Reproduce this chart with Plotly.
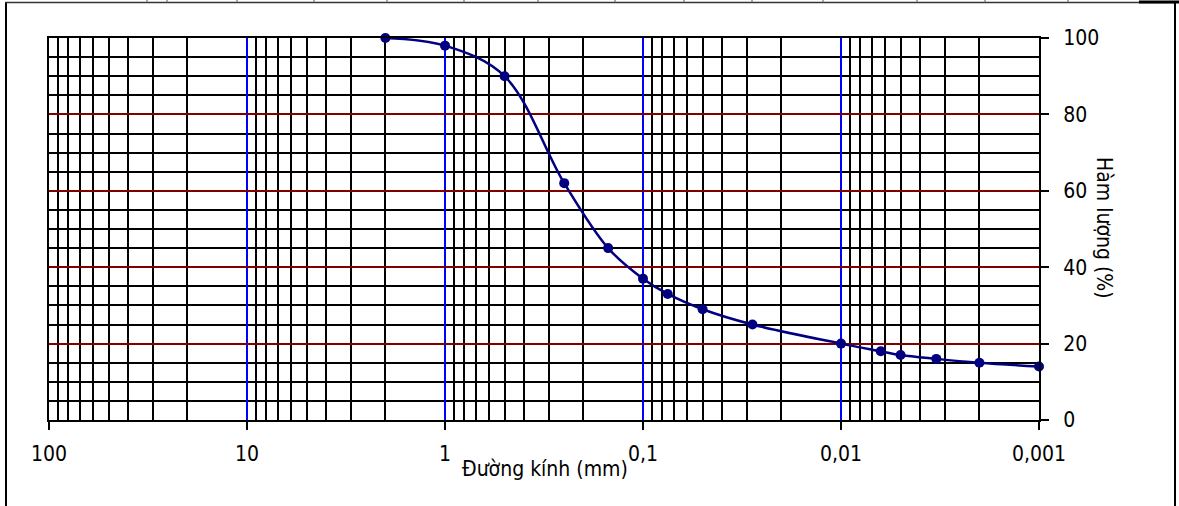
import math
import plotly.graph_objects as go

# ---- data ----
diameter_mm = [2.0, 1.0, 0.5, 0.25, 0.15, 0.1, 0.075, 0.05, 0.028, 0.01,
               0.0063, 0.005, 0.0033, 0.002, 0.001]
content_pct = [100, 98, 90, 62, 45, 37, 33, 29, 25, 20, 18, 17, 16, 15, 14]

x_decades = [100, 10, 1, 0.1, 0.01, 0.001]
x_labels = ["100", "10", "1", "0,1", "0,01", "0,001"]
y_ticks = [0, 20, 40, 60, 80, 100]
y_labels = ["0", "20", "40", "60", "80", "100"]

x_title = "Đường kính (mm)"
y_title = "Hàm lượng (%)"

# minor grid positions: 2..9 within each decade
x_minor = []
for d in x_decades[1:]:
    for m in range(2, 10):
        x_minor.append(round(m * d, 6))

FONT = "DejaVu Sans Condensed, Liberation Sans Narrow, Roboto Condensed, Liberation Sans, Arial, sans-serif"
FS = 21
GW = 2

W, H = 1179, 506
L, R, T, B = 49, 140, 38, 86
PW, PH = W - L - R, H - T - B


def px_to_paper_x(px):
    return (px - L) / PW


def py_to_paper_y(py):
    return (H - B - py) / PH


fig = go.Figure()
fig.add_trace(go.Scatter(
    x=diameter_mm, y=content_pct,
    mode="lines+markers",
    line=dict(color="#000080", width=2.5, shape="spline", smoothing=1.0),
    marker=dict(color="#000080", size=10),
    showlegend=False,
    cliponaxis=False,
))

fig.update_xaxes(
    type="log",
    range=[math.log10(100), math.log10(0.001)],
    autorange=False,
    tickmode="array", tickvals=x_decades, ticktext=x_labels,
    ticks="outside", ticklen=8, tickwidth=2, tickcolor="black",
    ticklabelstandoff=6,
    showgrid=True, gridcolor="#0000FF", gridwidth=GW,
    minor=dict(tickmode="array", tickvals=x_minor, showgrid=True,
               gridcolor="black", gridwidth=GW, ticks=""),
    showline=True, linecolor="black", linewidth=2, mirror=True,
    zeroline=False,
    tickfont=dict(family=FONT, size=FS, color="black"),
)
fig.update_yaxes(
    range=[0, 100], autorange=False,
    side="right",
    tickmode="array", tickvals=y_ticks, ticktext=y_labels,
    ticks="outside", ticklen=8, tickwidth=2, tickcolor="black",
    ticklabelstandoff=10,
    showgrid=True, gridcolor="#800000", gridwidth=GW,
    minor=dict(dtick=5, showgrid=True, gridcolor="black", gridwidth=GW, ticks=""),
    showline=True, linecolor="black", linewidth=2, mirror=True,
    zeroline=False,
    tickfont=dict(family=FONT, size=FS, color="black"),
)

annotations = [
    dict(text=x_title, x=px_to_paper_x(545), y=py_to_paper_y(469),
         xref="paper", yref="paper", showarrow=False,
         font=dict(family=FONT, size=FS, color="black"),
         xanchor="center", yanchor="middle"),
    dict(text=y_title, x=px_to_paper_x(1104), y=py_to_paper_y(228),
         xref="paper", yref="paper", showarrow=False, textangle=90,
         font=dict(family=FONT, size=FS, color="black"),
         xanchor="center", yanchor="middle"),
]

# outer frame (table cell borders around the chart)
shapes = [
    dict(type="line", xref="paper", yref="paper",
         x0=px_to_paper_x(6), x1=px_to_paper_x(6),
         y0=py_to_paper_y(2), y1=py_to_paper_y(506),
         line=dict(color="black", width=2)),
    dict(type="line", xref="paper", yref="paper",
         x0=px_to_paper_x(1175), x1=px_to_paper_x(1175),
         y0=py_to_paper_y(2), y1=py_to_paper_y(506),
         line=dict(color="black", width=2)),
    dict(type="line", xref="paper", yref="paper",
         x0=px_to_paper_x(5), x1=px_to_paper_x(1176),
         y0=py_to_paper_y(2.5), y1=py_to_paper_y(2.5),
         line=dict(color="#333333", width=1.5)),
    dict(type="line", xref="paper", yref="paper",
         x0=px_to_paper_x(1139), x1=px_to_paper_x(1179),
         y0=py_to_paper_y(2), y1=py_to_paper_y(2),
         line=dict(color="black", width=3)),
]
for mx in [147, 167, 237, 314, 387, 464, 538, 615, 684, 752, 823, 917, 985, 1068]:
    shapes.append(dict(type="line", xref="paper", yref="paper",
                       x0=px_to_paper_x(mx), x1=px_to_paper_x(mx),
                       y0=py_to_paper_y(0), y1=py_to_paper_y(3),
                       line=dict(color="#555555", width=1)))

fig.update_layout(
    width=W, height=H,
    margin=dict(l=L, r=R, t=T, b=B, pad=0),
    paper_bgcolor="white", plot_bgcolor="white",
    annotations=annotations, shapes=shapes,
    font=dict(family=FONT, size=FS, color="black"),
)

fig.write_html(
    "out.html",
    config={"displayModeBar": False, "staticPlot": True},
    post_script="document.body.style.margin='0';document.body.style.padding='0';",
)
